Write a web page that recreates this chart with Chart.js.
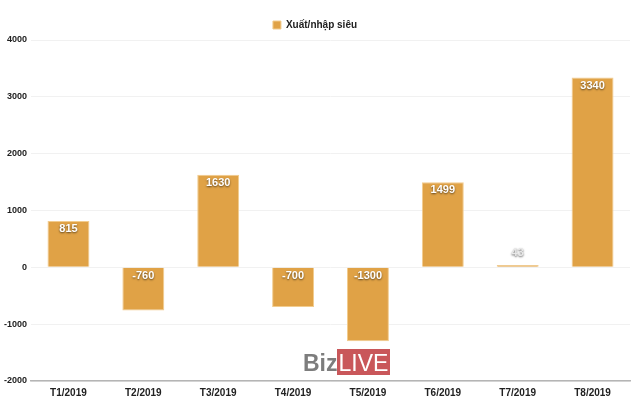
<!DOCTYPE html>
<html>
<head>
<meta charset="utf-8">
<script src="https://cdn.jsdelivr.net/npm/chart.js@4/dist/chart.umd.min.js"></script>
<style>
  html, body { margin: 0; padding: 0; background: #fff; }
  #wrap { width: 640px; height: 409px; }
</style>
</head>
<body>
<div id="wrap"><canvas id="myChart"></canvas></div>
<script>
var months = ["T1/2019","T2/2019","T3/2019","T4/2019","T5/2019","T6/2019","T7/2019","T8/2019"];
var values = [815, -760, 1630, -700, -1300, 1499, 43, 3340];
var seriesName = "Xuất/nhập siêu";
var yMin = -2000, yMax = 4000, yStep = 1000;

var barColor = "#E0A246";

// nhãn giá trị ở đầu trên của cột
var valueLabels = {
    id: "valueLabels",
    afterDatasetsDraw: function(chart) {
        var ctx = chart.ctx;
        var meta = chart.getDatasetMeta(0);
        ctx.save();
        ctx.font = "bold 11px 'Liberation Sans', Arial, sans-serif";
        ctx.textAlign = "center";
        ctx.textBaseline = "middle";
        meta.data.forEach(function(bar, i) {
            var v = values[i];
            var top = Math.min(bar.y, bar.base);
            var small = Math.abs(bar.y - bar.base) < 14;
            var y = small ? top - 12 : top + 8;
            ctx.shadowColor = "rgba(0,0,0,0.6)";
            ctx.shadowBlur = 2;
            ctx.shadowOffsetX = 0;
            ctx.shadowOffsetY = 1;
            ctx.fillStyle = small ? "#e8e8e8" : "#ffffff";
            ctx.fillText(String(v), bar.x, y);
        });
        ctx.restore();
    }
};

// logo BizLIVE
var watermark = {
    id: "watermark",
    afterDraw: function(chart) {
        var ctx = chart.ctx;
        ctx.save();
        ctx.textBaseline = "alphabetic";
        ctx.font = "bold 23px 'Liberation Sans', sans-serif";
        ctx.fillStyle = "#7d7d7d";
        ctx.fillText("Biz", 303, 371);
        ctx.fillStyle = "#c9575a";
        ctx.fillRect(337, 349, 53, 26);
        ctx.font = "23px 'Liberation Sans', sans-serif";
        var w = ctx.measureText("LIVE").width;
        ctx.fillStyle = "#ffffff";
        ctx.fillText("LIVE", 337 + (53 - w) / 2, 371);
        ctx.restore();
    }
};

var ctx = document.getElementById("myChart").getContext("2d");
Chart.defaults.font.family = "'Liberation Sans', Arial, sans-serif";
Chart.defaults.color = "#222";

var myChart = new Chart(ctx, {
    type: "bar",
    data: {
        labels: months,
        datasets: [{
            label: seriesName,
            data: values,
            backgroundColor: barColor,
            borderColor: "#f2cc8e",
            borderWidth: 1
        }]
    },
    options: {
        responsive: true,
        maintainAspectRatio: false,
        animation: false,
        layout: { padding: { left: 0, right: 10, top: 17, bottom: 4 } },
        plugins: {
            legend: {
                display: true,
                position: "top",
                labels: {
                    boxWidth: 8,
                    boxHeight: 8,
                    font: { size: 10, weight: "bold" },
                    color: "#222",
                    padding: 3
                }
            },
            tooltip: { enabled: false }
        },
        datasets: {
            bar: { categoryPercentage: 0.8, barPercentage: 0.7 }
        },
        scales: {
            x: {
                grid: { display: false, drawTicks: false },
                border: { display: true, color: "#b5b5b5", width: 1.5 },
                ticks: { font: { size: 10, weight: "bold" }, color: "#222", padding: 6 }
            },
            y: {
                min: yMin,
                max: yMax,
                ticks: {
                    stepSize: yStep,
                    font: { size: 9, weight: "bold" },
                    color: "#222",
                    padding: 4,
                    callback: function(v) { return String(v); }
                },
                grid: { color: "#f1f1f1", drawTicks: false },
                border: { display: false }
            }
        }
    },
    plugins: [valueLabels, watermark]
});
</script>
</body>
</html>
